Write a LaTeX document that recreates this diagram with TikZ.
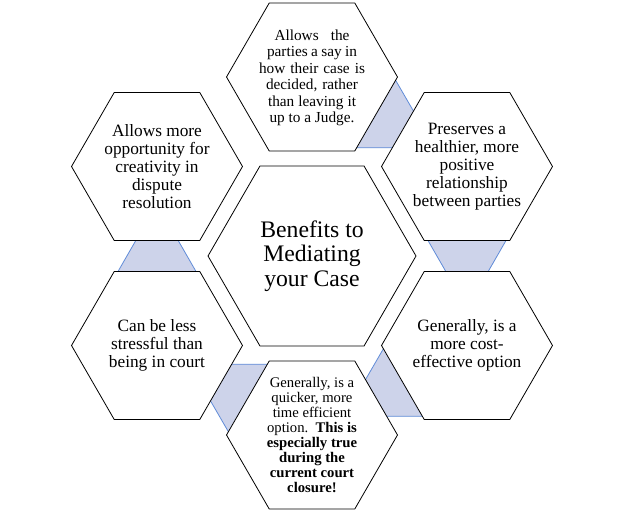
\documentclass[tikz,border=0pt]{standalone}
\usepackage{fontspec}
\setmainfont{Liberation Serif}
\usetikzlibrary{shapes.geometric}
\definecolor{confill}{RGB}{205,211,234}
\definecolor{conline}{RGB}{96,140,216}
\newcommand\mconn[2]{%
 \begin{scope}[shift={#1}, rotate=#2]
  \fill[confill] (-20,41.6) -- (20,18.6) -- (20,-18.6) -- (-20,-41.6) -- cycle;
  \draw[connln] (-20,41.6) -- (20,18.6);
  \draw[connln] (-20,-41.6) -- (20,-18.6);
 \end{scope}}
\begin{document}
\begin{tikzpicture}[x=1pt,y=1pt,
  hexo/.style={regular polygon, regular polygon sides=6, minimum size=171pt, inner sep=0pt, outer sep=0pt, draw=black, line width=0.8pt, fill=white},
  hexc/.style={hexo, minimum size=208pt},
  txt/.style={align=center, inner sep=0pt, font=\fontsize{17.3}{17.9}\selectfont},
  connln/.style={draw=conline, line width=0.8pt}
]
\useasboundingbox (0,0) rectangle (624,512);
% connectors (drawn under the hexagons)
\mconn{(389.5,390.25)}{-30}
\mconn{(467,256)}{-90}
\mconn{(389.5,121.75)}{-150}
\mconn{(234.5,121.75)}{150}
\mconn{(157,256)}{90}
% hexagons
\node[hexc] (center) at (312,256) {};
\node[hexo] (top) at (312,435) {};
\node[hexo] (ur) at (467,345.5) {};
\node[hexo] (lr) at (467,166.5) {};
\node[hexo] (bot) at (312,77) {};
\node[hexo] (ll) at (157,166.5) {};
\node[hexo] (ul) at (157,345.5) {};
% texts
\node[txt, font=\fontsize{23.7}{24.5}\selectfont] (ctxt) at (center) {Benefits to\\Mediating\\your Case};
\node[txt, font=\fontsize{15.3}{16.5}\selectfont] (toptxt) at ([yshift=-1]top) {\makebox[75pt][s]{Allows the}\\\makebox[90pt][s]{parties a say in}\\\makebox[106pt][s]{how their case is}\\\makebox[92pt][s]{decided, rather}\\\makebox[88pt][s]{than leaving it}\\up to a Judge.};
\node[txt] (urtxt) at (ur) {Preserves a\\healthier, more\\positive\\relationship\\between parties};
\node[txt] (lrtxt) at (lr) {Generally, is a\\more cost-\\effective option};
\node[txt, font=\fontsize{14.7}{15}\selectfont] (bottxt) at (bot) {Generally, is a\\quicker, more\\time efficient\\option.\ \ \textbf{This is}\\\textbf{especially true}\\\textbf{during the}\\\textbf{current court}\\\textbf{closure!}};
\node[txt] (lltxt) at (ll) {Can be less\\stressful than\\being in court};
\node[txt] (ultxt) at (ul) {Allows more\\opportunity for\\creativity in\\dispute\\resolution};
\end{tikzpicture}
\end{document}
